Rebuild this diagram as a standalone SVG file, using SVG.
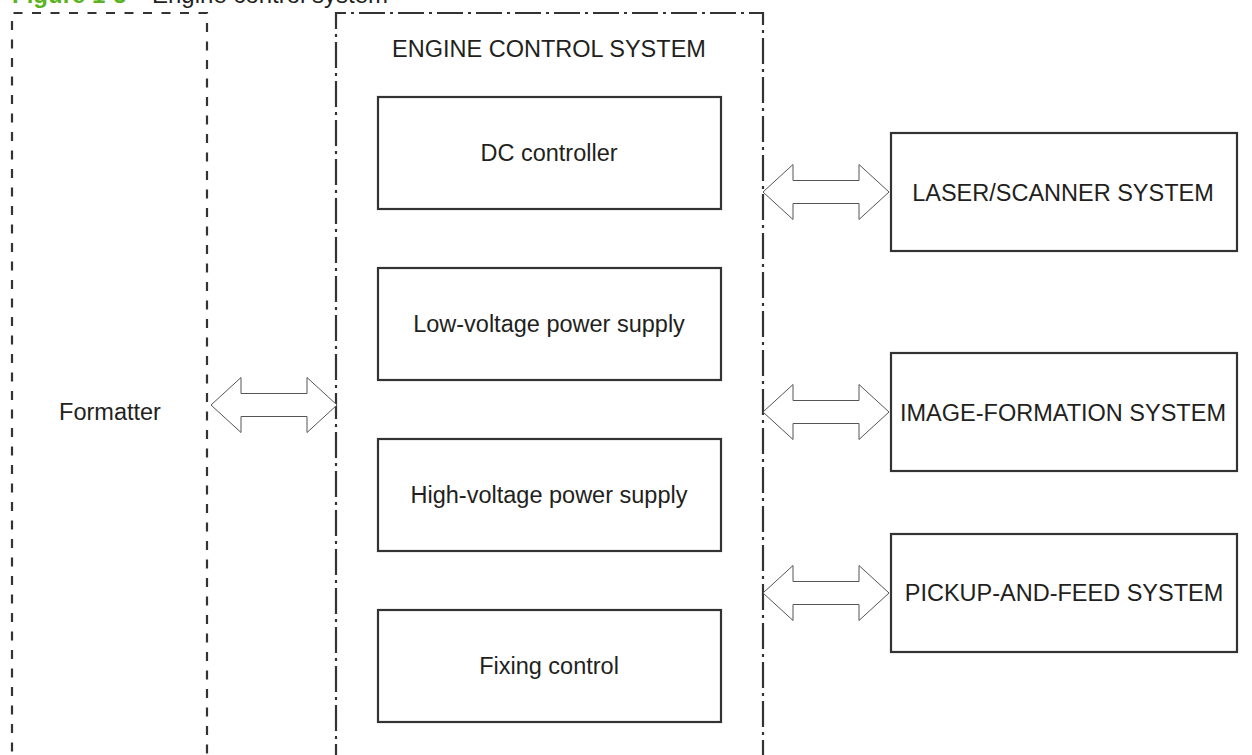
<svg xmlns="http://www.w3.org/2000/svg" width="1252" height="755" viewBox="0 0 1252 755">
<style>
.t{font-family:"Liberation Sans",Arial,sans-serif;font-size:23.5px;fill:#231f20;text-anchor:middle}
.box{fill:#fff;stroke:#333;stroke-width:2.2}
.fmt{fill:none;stroke:#333;stroke-width:2.2;stroke-dasharray:9 9.5}
.eng{fill:none;stroke:#333;stroke-width:2.2;stroke-dasharray:26 5 3 5}
.arr{fill:#fff;stroke:#555;stroke-width:1}
</style>
<defs>
<path id="arrow" d="M0 0 L30 -27.5 L30 -11.5 L96 -11.5 L96 -27.5 L126 0 L96 27.5 L96 11.5 L30 11.5 L30 27.5 Z"/>
</defs>
<rect width="1252" height="755" fill="#fff"/>
<text y="3" style="font-family:'Liberation Sans',Arial,sans-serif;font-size:24px"><tspan x="12" font-weight="bold" fill="#5bb31f">Figure 1-5</tspan><tspan x="152" fill="#231f20">Engine control system</tspan></text>
<g id="formatter">
<path class="fmt" d="M12 770 V13 H207 V770"/>
<text class="t" x="110" y="420">Formatter</text>
</g>
<g id="engine-control-system">
<path class="eng" d="M336 770 V13 H763 V770"/>
<text class="t" x="549" y="57">ENGINE CONTROL SYSTEM</text>
</g>
<g id="dc-controller">
<rect class="box" x="378" y="97" width="343" height="112"/>
<text class="t" x="549" y="161">DC controller</text>
</g>
<g id="low-voltage">
<rect class="box" x="378" y="268" width="343" height="112"/>
<text class="t" x="549" y="332">Low-voltage power supply</text>
</g>
<g id="high-voltage">
<rect class="box" x="378" y="439" width="343" height="112"/>
<text class="t" x="549" y="503">High-voltage power supply</text>
</g>
<g id="fixing-control">
<rect class="box" x="378" y="610" width="343" height="112"/>
<text class="t" x="549" y="674">Fixing control</text>
</g>
<g id="laser-scanner">
<rect class="box" x="891" y="133" width="346" height="118"/>
<text class="t" x="1063" y="201">LASER/SCANNER SYSTEM</text>
</g>
<g id="image-formation">
<rect class="box" x="891" y="353" width="346" height="118"/>
<text class="t" x="1063" y="421">IMAGE-FORMATION SYSTEM</text>
</g>
<g id="pickup-feed">
<rect class="box" x="891" y="534" width="346" height="118"/>
<text class="t" x="1064" y="601">PICKUP-AND-FEED SYSTEM</text>
</g>
<g id="connectors">
<use href="#arrow" class="arr" transform="translate(211,405)"/>
<use href="#arrow" class="arr" transform="translate(763,192)"/>
<use href="#arrow" class="arr" transform="translate(763,412)"/>
<use href="#arrow" class="arr" transform="translate(763,593)"/>
</g>
</svg>
